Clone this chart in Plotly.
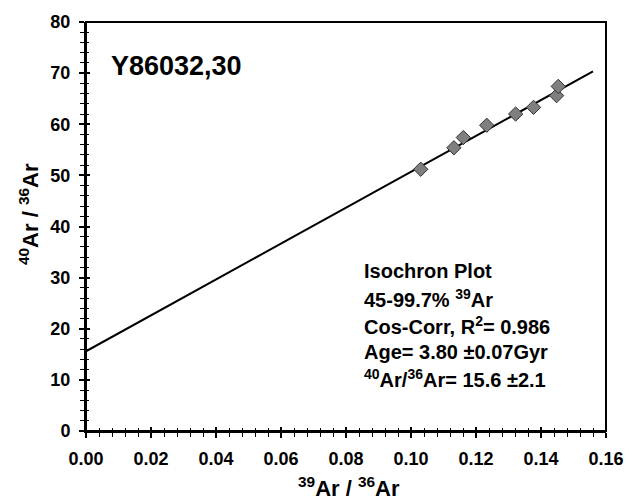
import plotly.graph_objects as go

# Isochron data: 39Ar/36Ar vs 40Ar/36Ar
ar39_36 = [0.1030, 0.1132, 0.1161, 0.1233, 0.1322, 0.1377, 0.1448, 0.1453]
ar40_36 = [51.2, 55.4, 57.4, 59.8, 62.0, 63.3, 65.6, 67.4]

# Fitted isochron line
intercept = 15.6
slope = 351.0
line_x = [0.0, 0.156]
line_y = [intercept + slope * x for x in line_x]

sample_name = "Y86032,30"
info_lines = [
    "Isochron Plot",
    "45-99.7% <sup>39</sup>Ar",
    "Cos-Corr, R<sup>2</sup>= 0.986",
    "Age= 3.80 ±0.07Gyr",
    "<sup>40</sup>Ar/<sup>36</sup>Ar= 15.6 ±2.1",
]
x_title = "<sup>39</sup>Ar / <sup>36</sup>Ar"
y_title = "<sup>40</sup>Ar / <sup>36</sup>Ar"

FONT = "Liberation Sans, Arial, sans-serif"

fig = go.Figure()
fig.add_trace(go.Scatter(x=line_x, y=line_y, mode="lines",
                         line=dict(color="black", width=2), showlegend=False))
fig.add_trace(go.Scatter(x=ar39_36, y=ar40_36, mode="markers",
                         marker=dict(symbol="diamond", size=11, color="#7f7f7f",
                                     line=dict(color="#333333", width=1)),
                         showlegend=False))

axis_common = dict(showgrid=False, zeroline=False, linecolor="black", linewidth=2,
                   tickcolor="black", mirror=False, showline=True)

fig.update_layout(
    width=638, height=501,
    margin=dict(l=86, r=32, t=18, b=70),
    paper_bgcolor="white", plot_bgcolor="white",
    font=dict(family=FONT, color="black", size=15, weight="bold"),
    xaxis=dict(range=[0, 0.16], tick0=0, dtick=0.02, tickformat=".2f",
               ticks="outside", ticklen=5, tickwidth=2,
               minor=dict(dtick=0.004, ticks="outside", ticklen=4, tickwidth=1, tickcolor="black"),
               tickfont=dict(size=18, weight="bold"), ticklabelstandoff=5,
               **axis_common),
    yaxis=dict(range=[0, 80], tick0=0, dtick=10,
               ticks="outside", ticklen=5, tickwidth=2,
               minor=dict(dtick=2, ticks="outside", ticklen=4, tickwidth=1, tickcolor="black"),
               tickfont=dict(size=18, weight="bold"), ticklabelstandoff=5,
               **axis_common),
    # overlay axes provide the inward half of each tick so ticks cross the axis lines
    xaxis2=dict(range=[0, 0.16], overlaying="x", tick0=0, dtick=0.02, showticklabels=False,
                ticks="inside", ticklen=4, tickwidth=2, showline=False, showgrid=False,
                zeroline=False, tickcolor="black",
                minor=dict(dtick=0.004, ticks="inside", ticklen=3, tickwidth=1, tickcolor="black")),
    yaxis2=dict(range=[0, 80], overlaying="y", tick0=0, dtick=10, showticklabels=False,
                ticks="inside", ticklen=4, tickwidth=2, showline=False, showgrid=False,
                zeroline=False, tickcolor="black",
                minor=dict(dtick=2, ticks="inside", ticklen=3, tickwidth=1, tickcolor="black")),
)

# invisible trace binding the overlay axes
fig.add_trace(go.Scatter(x=[None], y=[None], xaxis="x2", yaxis="y2", showlegend=False,
                         hoverinfo="skip"))

# right and top frame lines
fig.add_shape(type="rect", xref="paper", yref="paper", x0=0, y0=0, x1=1, y1=1,
              line=dict(color="black", width=2), fillcolor="rgba(0,0,0,0)")

# axis titles
fig.add_annotation(text=x_title, xref="paper", yref="paper", x=0.505, y=-0.136,
                   xanchor="center", yanchor="middle", showarrow=False,
                   font=dict(size=22, weight="bold"))
fig.add_annotation(text=y_title, xref="paper", yref="paper", x=-0.11, y=0.53,
                   xanchor="center", yanchor="middle", textangle=-90, showarrow=False,
                   font=dict(size=22, weight="bold"))

fig.add_annotation(text=sample_name, xref="x", yref="y", x=0.0072, y=71.3,
                   xanchor="left", yanchor="middle", showarrow=False,
                   font=dict(size=27, weight="bold"))

for i, t in enumerate(info_lines):
    fig.add_annotation(text=t, xref="x", yref="y", x=0.0848, y=31.2 - i * 5.25,
                       xanchor="left", yanchor="middle", showarrow=False,
                       font=dict(size=20, weight="bold"))

fig.write_html("out.html")
